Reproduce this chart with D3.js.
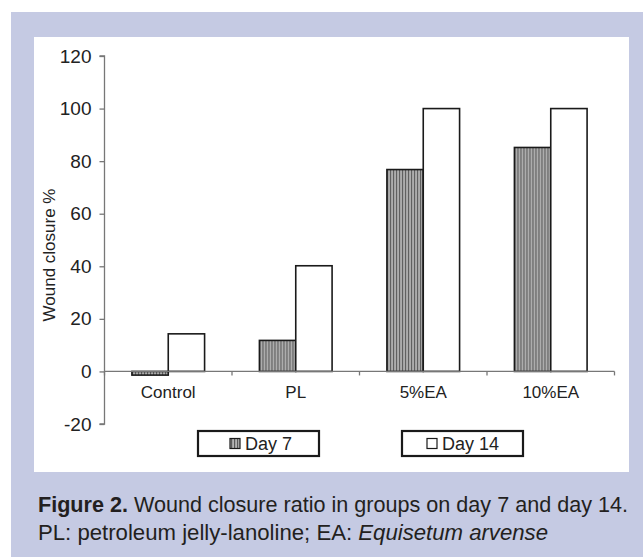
<!DOCTYPE html>
<html>
<head>
<meta charset="utf-8">
<script src="https://cdn.jsdelivr.net/npm/d3@7"></script>
<style>
  body { margin: 0; background: #fff; }
  svg text { font-family: "Liberation Sans", Arial, sans-serif; fill: #222; }
  .caption text { font-family: "Liberation Sans", Arial, sans-serif; fill: #231f20; }
</style>
</head>
<body>
<div id="chart"></div>
<script>
var categories = ["Control", "PL", "5%EA", "10%EA"];
var seriesNames = ["Day 7", "Day 14"];
var day7 = [-1.4, 11.8, 76.8, 85.2];
var day14 = [14.3, 40.2, 100, 100];
var yTicks = [-20, 0, 20, 40, 60, 80, 100, 120];

var width = 643;
var height = 560;

var svg = d3.select("#chart")
  .append("svg")
  .attr("width", width)
  .attr("height", height);

// hatch for day 7 bars
var defs = svg.append("defs");
var pat = defs.append("pattern")
  .attr("id", "vhatch")
  .attr("patternUnits", "userSpaceOnUse")
  .attr("width", 3)
  .attr("height", 4);
pat.append("rect").attr("width", 3).attr("height", 4).attr("fill", "#b4b4b4");
pat.append("rect").attr("width", 1.2).attr("height", 4).attr("fill", "#5a5a5a");

// frame
svg.append("rect")
  .attr("x", 11).attr("y", 12)
  .attr("width", width - 11).attr("height", 545)
  .attr("fill", "#c5cae3");
svg.append("rect")
  .attr("x", 34).attr("y", 37)
  .attr("width", 595).attr("height", 435)
  .attr("fill", "#fff");

var yScale = d3.scaleLinear()
  .domain([-20, 120])
  .range([424, 56]);

var x0 = d3.scaleBand()
  .domain(categories)
  .range([104.5, 614.5])
  .paddingInner(0.43)
  .paddingOuter(0.215);

var x1 = d3.scaleBand()
  .domain(seriesNames)
  .range([0, x0.bandwidth()]);

var chartGroup = svg.append("g");

// y axis
var yAxis = d3.axisLeft(yScale)
  .tickValues(yTicks)
  .tickFormat(d => String(d))
  .tickSize(5)
  .tickPadding(8);
var yg = chartGroup.append("g")
  .attr("transform", "translate(104.5,0)")
  .call(yAxis);
yg.select(".domain").attr("stroke", "#777").attr("stroke-width", 1.3)
  .attr("d", "M-5," + yScale(120) + "H0V" + yScale(-20) + "H-5");
yg.selectAll(".tick line").attr("stroke", "#777").attr("stroke-width", 1.3);
yg.selectAll(".tick text").attr("font-size", 19).attr("fill", "#222");

// bars
var rows = categories.map(function(c, i) {
  return { cat: c, vals: [day7[i], day14[i]] };
});

var groups = chartGroup.selectAll(".grp")
  .data(rows)
  .enter()
  .append("g")
  .attr("transform", d => "translate(" + x0(d.cat) + ",0)");

groups.selectAll("rect")
  .data(d => d.vals.map((v, j) => ({ name: seriesNames[j], v: v })))
  .enter()
  .append("rect")
  .attr("x", d => x1(d.name))
  .attr("width", x1.bandwidth())
  .attr("y", d => yScale(Math.max(0, d.v)))
  .attr("height", d => Math.abs(yScale(d.v) - yScale(0)))
  .attr("fill", d => d.name == "Day 7" ? "url(#vhatch)" : "#fff")
  .attr("stroke", "#1a1a1a")
  .attr("stroke-width", 1.6);

// x axis at zero
var step = x0.step();
var xEdges = categories.map((c, i) => 104.5 + i * step).concat([614.5]);
var xg = chartGroup.append("g");
xg.append("line")
  .attr("x1", 104.5).attr("x2", 614.5)
  .attr("y1", yScale(0)).attr("y2", yScale(0))
  .attr("stroke", "#777").attr("stroke-width", 1.3);
xg.selectAll(".xt")
  .data(xEdges)
  .enter()
  .append("line")
  .attr("x1", d => d).attr("x2", d => d)
  .attr("y1", yScale(0)).attr("y2", yScale(0) + 4)
  .attr("stroke", "#777").attr("stroke-width", 1.3);
xg.selectAll(".xl")
  .data(categories)
  .enter()
  .append("text")
  .attr("x", d => x0(d) + x0.bandwidth() / 2)
  .attr("y", yScale(0) + 27)
  .attr("text-anchor", "middle")
  .attr("font-size", 17)
  .text(d => d);

// y label
chartGroup.append("text")
  .attr("transform", "translate(55," + 255 + ") rotate(-90)")
  .attr("text-anchor", "middle")
  .attr("font-size", 17)
  .text("Wound closure %");

// legend boxes
var legendBoxes = [
  { name: "Day 7", x: 198, w: 121 },
  { name: "Day 14", x: 402, w: 121 }
];
var lg = svg.selectAll(".leg")
  .data(legendBoxes)
  .enter()
  .append("g");
lg.append("rect")
  .attr("x", d => d.x).attr("y", 431)
  .attr("width", d => d.w).attr("height", 25)
  .attr("fill", "#fff")
  .attr("stroke", "#1a1a1a")
  .attr("stroke-width", 2.2);
lg.append("rect")
  .attr("x", d => d.x + (d.name == "Day 7" ? 32 : 25))
  .attr("y", 438.5)
  .attr("width", 10).attr("height", 10)
  .attr("fill", d => d.name == "Day 7" ? "url(#vhatch)" : "#fff")
  .attr("stroke", "#1a1a1a")
  .attr("stroke-width", 1.2);
lg.append("text")
  .attr("x", d => d.x + (d.name == "Day 7" ? 47 : 40))
  .attr("y", 450)
  .attr("font-size", 18)
  .text(d => d.name);

// caption
var cap = svg.append("g").attr("class", "caption");
var line1 = cap.append("text")
  .attr("x", 38).attr("y", 512)
  .attr("font-size", 22)
  .attr("textLength", 590)
  .attr("lengthAdjust", "spacingAndGlyphs");
line1.append("tspan").attr("font-weight", "bold").text("Figure 2.");
line1.append("tspan").text(" Wound closure ratio in groups on day 7 and day 14.");
var line2 = cap.append("text")
  .attr("x", 38).attr("y", 540)
  .attr("font-size", 22)
  .attr("textLength", 510)
  .attr("lengthAdjust", "spacingAndGlyphs");
line2.append("tspan").text("PL: petroleum jelly-lanoline; EA: ");
line2.append("tspan").attr("font-style", "italic").text("Equisetum arvense");
</script>
</body>
</html>
